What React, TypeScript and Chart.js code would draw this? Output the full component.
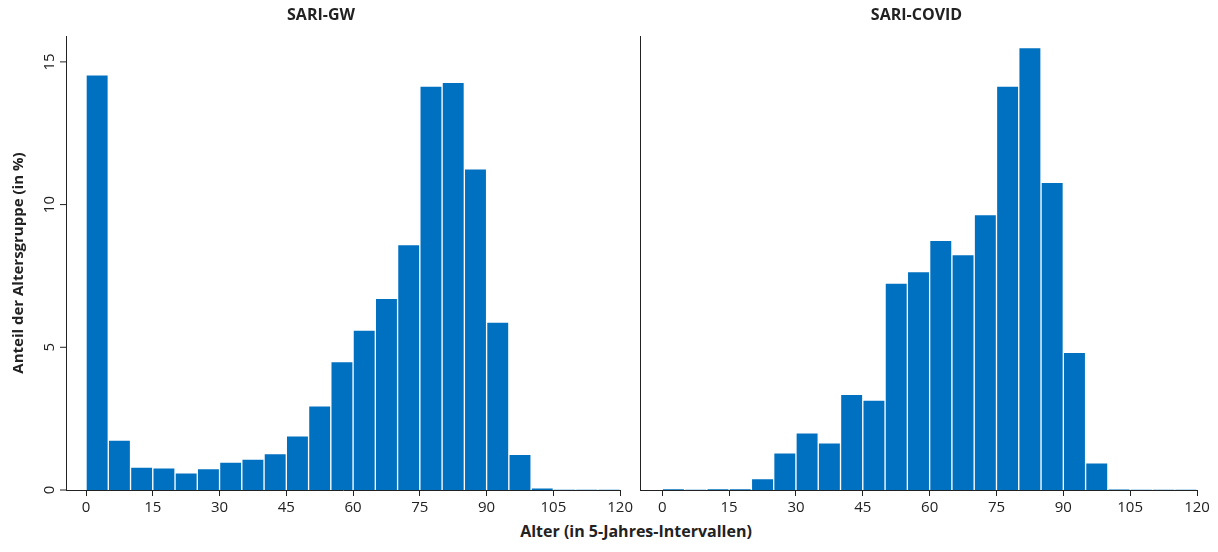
import React, { useEffect, useRef } from 'react';
import { Chart, registerables } from 'chart.js';

Chart.register(...registerables);

const binStarts = [0, 5, 10, 15, 20, 25, 30, 35, 40, 45, 50, 55, 60, 65, 70, 75, 80, 85, 90, 95, 100, 105, 110, 115];
const sariGw = [14.55, 1.75, 0.8, 0.78, 0.6, 0.75, 0.98, 1.08, 1.28, 1.9, 2.95, 4.5, 5.6, 6.72, 8.6, 14.15, 14.28, 11.25, 5.88, 1.25, 0.08, 0.01, 0.01, 0.01];
const sariCovid = [0.03, 0.01, 0.03, 0.03, 0.4, 1.3, 2.0, 1.65, 3.35, 3.15, 7.25, 7.65, 8.75, 8.25, 9.65, 14.15, 15.5, 10.78, 4.82, 0.95, 0.02, 0.01, 0.01, 0.01];
const xTicks = [0, 15, 30, 45, 60, 75, 90, 105, 120];
const yTicks = [0, 5, 10, 15];

const FONT = '"Open Sans", "DejaVu Sans", sans-serif';
const BLUE = '#0070C0';

const rotatedYTicks = {
  id: 'rotatedYTicks',
  afterDraw(chart: any, _a: any, opts: any) {
    if (!opts || !opts.show) return;
    const { ctx, scales } = chart;
    const y = scales.y;
    ctx.save();
    ctx.fillStyle = '#222';
    ctx.font = `15px ${FONT}`;
    ctx.textAlign = 'center';
    ctx.textBaseline = 'bottom';
    ctx.strokeStyle = '#222';
    ctx.lineWidth = 1;
    yTicks.forEach((v) => {
      const py = y.getPixelForValue(v);
      ctx.beginPath();
      ctx.moveTo(y.right - 6, py);
      ctx.lineTo(y.right, py);
      ctx.stroke();
      ctx.save();
      ctx.translate(y.right - 9, py);
      ctx.rotate(-Math.PI / 2);
      ctx.fillText(String(v), 0, 0);
      ctx.restore();
    });
    ctx.restore();
  },
};

function Panel({ title, values, left }: { title: string; values: number[]; left: boolean }) {
  const ref = useRef<HTMLCanvasElement>(null);
  useEffect(() => {
    if (!ref.current) return;
    const chart = new Chart(ref.current, {
      type: 'bar',
      data: {
        datasets: [{
          data: binStarts.map((b, i) => ({ x: b + 2.5, y: values[i] })),
          backgroundColor: BLUE,
          borderColor: '#ffffff',
          borderWidth: 1,
          barPercentage: 1,
          categoryPercentage: 1,
        }],
      },
      plugins: [rotatedYTicks],
      options: {
        animation: false,
        responsive: false,
        layout: { padding: { left: left ? 10 : 0, right: left ? 4 : 21, top: 0 } },
        plugins: {
          legend: { display: false },
          tooltip: { enabled: false },
          title: {
            display: true, text: title, color: '#222',
            font: { family: FONT, size: 16, weight: 'bold' },
            padding: { top: 6, bottom: 11 },
          },
          rotatedYTicks: { show: left },
        } as any,
        scales: {
          x: {
            type: 'linear',
            offset: false,
            min: left ? -4.5 : -5,
            max: 120,
            grid: { display: true, offset: false, drawOnChartArea: false, drawTicks: true, tickLength: 6, color: '#222' },
            border: { color: '#222' },
            afterBuildTicks: (s: any) => { s.ticks = xTicks.map((v) => ({ value: v })); },
            ticks: { color: '#222', font: { family: FONT, size: 15 }, maxRotation: 0, padding: 3 },
          },
          y: {
            min: 0,
            max: 15.9,
            grid: { display: false },
            border: { color: '#222' },
            ticks: { display: false },
            afterFit: (s: any) => { s.width = left ? 56 : 4; },
            title: {
              display: left, text: 'Anteil der Altersgruppe (in %)', color: '#222',
              font: { family: FONT, size: 15, weight: 'bold' }, padding: 0,
            },
          },
        },
      },
    });
    return () => chart.destroy();
  }, [values, left, title]);
  const w = left ? 636 : 582;
  return <canvas ref={ref} width={w} height={520} style={{ width: w, height: 520, display: 'block' }} />;
}

export default function App() {
  return (
    <div style={{ position: 'absolute', left: 0, top: 0, width: 1218, height: 552, background: '#fff' }}>
      <div style={{ display: 'flex' }}>
        <Panel title="SARI-GW" values={sariGw} left={true} />
        <Panel title="SARI-COVID" values={sariCovid} left={false} />
      </div>
      <div style={{ textAlign: 'center', fontFamily: FONT, fontWeight: 'bold', fontSize: 16, color: '#222', marginTop: 0, paddingLeft: 54 }}>
        Alter (in 5-Jahres-Intervallen)
      </div>
    </div>
  );
}
